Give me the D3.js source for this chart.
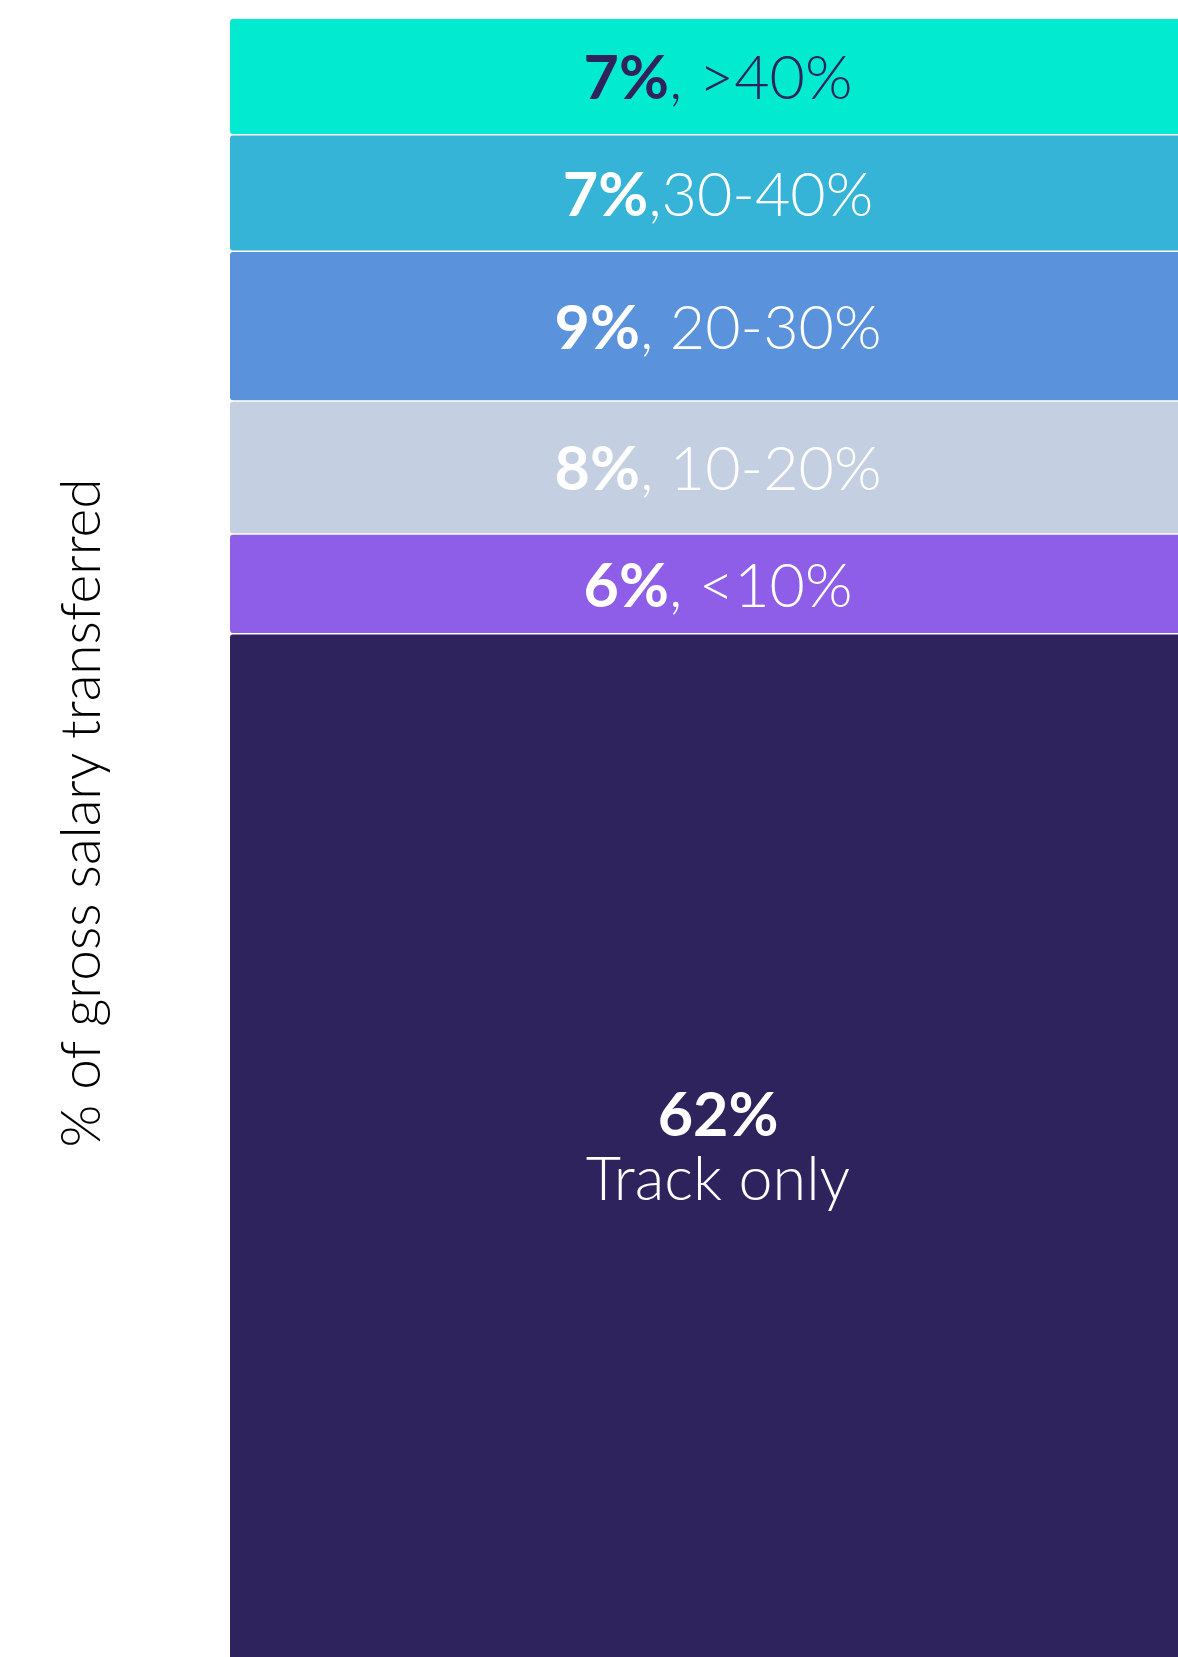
<!DOCTYPE html>
<html>
<head>
<meta charset="utf-8">
<script src="https://cdn.jsdelivr.net/npm/d3@7"></script>
<style>
  html, body { margin: 0; padding: 0; background: #ffffff; }
  svg { display: block; }
  text { font-family: Lato, "Open Sans", sans-serif; }
</style>
</head>
<body>
<div id="chart"></div>
<script>
// Share of people by % of gross salary transferred (stacked, top to bottom)
const categories = [">40%", "30-40%", "20-30%", "10-20%", "<10%", "Track only"];
const shares = [7, 7, 9, 8, 6, 62];
const separators = [", ", ",", ", ", ", ", ", ", ""];
const colors = ["#02ebd1", "#35b4d7", "#5a92dc", "#c4cfe1", "#8f5ee8", "#2e235d"];
const textColors = ["#2e235d", "#ffffff", "#ffffff", "#ffffff", "#ffffff", "#ffffff"];
const axisTitle = "% of gross salary transferred";

const width = 1178, height = 1657;
const svg = d3.select("#chart").append("svg")
  .attr("width", width).attr("height", height);

const total = d3.sum(shares);
const y = d3.scaleLinear().domain([0, total]).range([19, 1666]);
const x = d3.scaleLinear().domain([0, 1]).range([230, 1206]);

// cumulative starts from the top
const starts = d3.cumsum([0].concat(shares.slice(0, -1)));
const segs = categories.map((c, i) => ({
  cat: c, value: shares[i], sep: separators[i],
  y0: starts[i], y1: starts[i] + shares[i],
  fill: colors[i], tc: textColors[i]
}));

const g = svg.append("g");
g.selectAll("rect").data(segs).join("rect")
  .attr("x", x(0))
  .attr("y", d => y(d.y0))
  .attr("width", x(1) - x(0))
  .attr("height", d => y(d.y1) - y(d.y0) - 1.5)
  .attr("rx", 3)
  .attr("fill", d => d.fill);

const cx = (x(0) + x(1)) / 2;
const fs = 61;

// single-line labels for the transfer bands
const bands = segs.filter(d => d.cat !== "Track only");
const lab = g.selectAll("text.band").data(bands).join("text")
  .attr("class", "band")
  .attr("x", cx)
  .attr("y", d => (y(d.y0) + y(d.y1)) / 2)
  .attr("dy", "0.36em")
  .attr("text-anchor", "middle")
  .attr("font-size", fs)
  .attr("fill", d => d.tc);
lab.append("tspan").attr("font-weight", 700).text(d => d.value + "%");
lab.append("tspan").attr("font-weight", 300).text(d => d.sep + d.cat);

// two-line label for the largest segment
const big = segs[segs.length - 1];
const bigMid = (y(big.y0) + y(big.y1)) / 2;
g.append("text")
  .attr("x", cx).attr("y", bigMid - 14)
  .attr("text-anchor", "middle")
  .attr("font-size", fs).attr("font-weight", 700)
  .attr("fill", big.tc)
  .text(big.value + "%");
g.append("text")
  .attr("x", cx).attr("y", bigMid + 50)
  .attr("text-anchor", "middle")
  .attr("font-size", fs).attr("font-weight", 300)
  .attr("fill", big.tc)
  .text(big.cat);

// rotated axis title
svg.append("text")
  .attr("transform", `translate(100, 813) rotate(-90)`)
  .attr("text-anchor", "middle")
  .attr("font-size", 55)
  .attr("font-weight", 300)
  .attr("fill", "#000000")
  .text(axisTitle);
</script>
</body>
</html>
